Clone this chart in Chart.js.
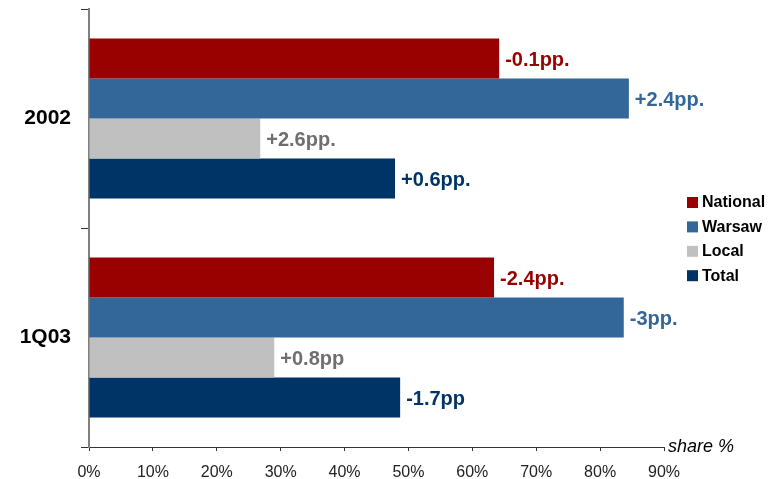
<!DOCTYPE html>
<html>
<head>
<meta charset="utf-8">
<script src="https://cdn.jsdelivr.net/npm/chart.js@4/dist/chart.umd.min.js"></script>
<style>
  html, body { margin: 0; padding: 0; background: #fff; }
  #wrap { position: relative; width: 772px; height: 479px; }
</style>
</head>
<body>
<div id="wrap"><canvas id="shareChart"></canvas></div>
<script>
const periods = ["2002", "1Q03"];
const seriesNames = ["National", "Warsaw", "Local", "Total"];
const nationalShare = [64.2, 63.4];
const warsawShare = [84.5, 83.7];
const localShare = [26.8, 29.0];
const totalShare = [47.9, 48.7];
const nationalChange = ["-0.1pp.", "-2.4pp."];
const warsawChange = ["+2.4pp.", "-3pp."];
const localChange = ["+2.6pp.", "+0.8pp"];
const totalChange = ["+0.6pp.", "-1.7pp"];
const xTicks = [0, 10, 20, 30, 40, 50, 60, 70, 80, 90];

const FONT = "Arial, 'Liberation Sans', sans-serif";
const barColors = ["#990000", "#336699", "#c0c0c0", "#003366"];
const labelColors = ["#990000", "#336699", "#6f6f6f", "#003366"];
const changeLabels = [nationalChange, warsawChange, localChange, totalChange];
const values = [nationalShare, warsawShare, localShare, totalShare];

// change labels at the end of each bar
const barLabels = {
  id: "barLabels",
  afterDatasetsDraw(chart) {
    const ctx = chart.ctx;
    ctx.save();
    ctx.font = "bold 20px " + FONT;
    ctx.textAlign = "left";
    ctx.textBaseline = "middle";
    chart.data.datasets.forEach((ds, i) => {
      chart.getDatasetMeta(i).data.forEach((bar, j) => {
        ctx.fillStyle = labelColors[i];
        ctx.fillText(changeLabels[i][j], bar.x + 6, bar.y + 2);
      });
    });
    ctx.restore();
  }
};

// legend on the right plus the axis caption
const sideLegend = {
  id: "sideLegend",
  afterDraw(chart) {
    const ctx = chart.ctx;
    const area = chart.chartArea;
    ctx.save();
    ctx.textBaseline = "middle";
    ctx.textAlign = "left";
    ctx.font = "bold 16px " + FONT;
    chart.data.datasets.forEach((ds, i) => {
      const y = 202 + i * 24.4;
      ctx.fillStyle = ds.backgroundColor;
      ctx.fillRect(687, y - 5, 11, 11);
      ctx.fillStyle = "#000";
      ctx.fillText(ds.label, 702, y + 1);
    });
    ctx.font = "italic 18px " + FONT;
    ctx.fillStyle = "#000";
    ctx.fillText("share %", area.right + 4, area.bottom);
    ctx.restore();
  }
};

new Chart(document.getElementById("shareChart"), {
  type: "bar",
  data: {
    labels: periods,
    datasets: seriesNames.map((name, i) => ({
      label: name,
      data: values[i],
      backgroundColor: barColors[i],
      borderWidth: 0,
      categoryPercentage: 0.73,
      barPercentage: 1.0,
    })),
  },
  options: {
    indexAxis: "y",
    responsive: true,
    maintainAspectRatio: false,
    animation: false,
    layout: { padding: { top: 9, right: 108, left: 0, bottom: 0 } },
    plugins: {
      legend: { display: false },
      tooltip: { enabled: false },
    },
    scales: {
      x: {
        min: 0,
        max: 90,
        afterFit: (scale) => { scale.height = 32; },
        afterBuildTicks: (scale) => { scale.ticks = xTicks.map(v => ({ value: v })); },
        ticks: {
          color: "#222",
          font: { family: FONT, size: 16 },
          padding: 12,
          callback: (v) => v + "%",
        },
        grid: { drawOnChartArea: false, tickLength: 4, color: "#333", tickColor: "#333" },
        border: { color: "#333", width: 1 },
      },
      y: {
        afterFit: (scale) => {
          scale.width = 89;
          scale.paddingTop = 0;
          scale.paddingBottom = 0;
        },
        ticks: {
          color: "#000",
          font: { family: FONT, size: 21, weight: "bold" },
          padding: 10,
        },
        grid: { drawOnChartArea: false, tickLength: 8, color: "#333", tickColor: "#333", offset: true },
        border: { color: "#808080", width: 2 },
      },
    },
  },
  plugins: [barLabels, sideLegend],
});
</script>
</body>
</html>
